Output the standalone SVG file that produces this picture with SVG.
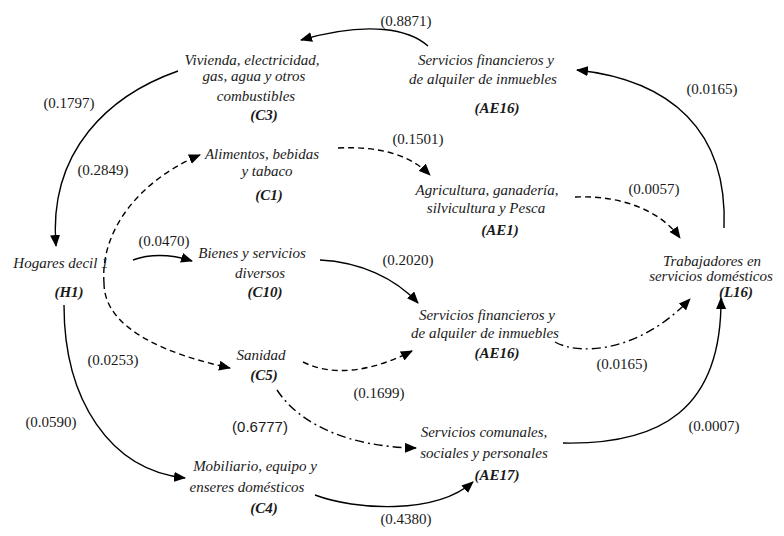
<svg xmlns="http://www.w3.org/2000/svg" width="784" height="536" viewBox="0 0 784 536" font-family="'Liberation Serif', 'Times New Roman', serif">
<defs>
<marker id="ah" markerWidth="12" markerHeight="10" refX="11" refY="5" orient="auto" markerUnits="userSpaceOnUse">
<path d="M0,0 L12,5 L0,10 Z" fill="#000"/>
</marker>
<style>
text{fill:#1a1a1a;}
.n{font-style:italic;font-size:15px;text-anchor:middle;}
.c{font-style:italic;font-weight:bold;font-size:15px;text-anchor:middle;}
.w{font-size:15px;text-anchor:middle;}
.ws{font-size:15px;text-anchor:middle;}
.e{fill:none;stroke:#000;stroke-width:1.4;marker-end:url(#ah);}
.d{stroke-dasharray:6,4;}
.dd{stroke-dasharray:9,4,2,4;}
</style>
</defs>
<rect width="784" height="536" fill="#fff"/>
<g id="connectors">
<path class="e" d="M428,46 C410,30 370,20 301,40"/>
<path class="e" d="M178,71 C110,95 48,150 56,246"/>
<path class="e d" d="M104,283 C100,230 140,180 200,155"/>
<path class="e d" d="M104,283 C104,330 170,355 230,368"/>
<path class="e" d="M133,260 C150,254 170,254 192,261"/>
<path class="e" d="M320,260 C360,262 395,278 418,303"/>
<path class="e d" d="M303,362 C335,378 375,370 412,351"/>
<path class="e dd" d="M277,390 C300,425 350,447 416,448"/>
<path class="e" d="M64,305 C64,400 110,470 185,478"/>
<path class="e" d="M315,495 C355,510 435,515 473,482"/>
<path class="e" d="M563,443 C660,445 722,410 721,298"/>
<path class="e dd" d="M555,342 C580,356 640,352 690,299"/>
<path class="e d" d="M575,197 C620,195 660,210 680,238"/>
<path class="e d" d="M338,148 C380,146 410,155 430,175"/>
<path class="e" d="M724,228 C728,130 670,80 577,70"/>
</g>
<g id="labels">
<text class="w" x="406" y="26">(0.8871)</text>
<text class="w" x="69" y="108">(0.1797)</text>
<text class="w" x="103" y="175">(0.2849)</text>
<text class="w" x="164" y="246">(0.0470)</text>
<text class="w" x="408" y="265">(0.2020)</text>
<text class="w" x="379" y="398">(0.1699)</text>
<text class="ws" x="260" y="432" font-family="'Liberation Sans', Arial, sans-serif">(0.6777)</text>
<text class="w" x="51" y="427">(0.0590)</text>
<text class="w" x="113" y="365">(0.0253)</text>
<text class="w" x="406" y="524">(0.4380)</text>
<text class="w" x="714" y="431">(0.0007)</text>
<text class="w" x="622" y="369">(0.0165)</text>
<text class="w" x="654" y="194">(0.0057)</text>
<text class="w" x="418" y="144">(0.1501)</text>
<text class="w" x="712" y="94">(0.0165)</text>
</g>
<g id="C3">
<text class="n" x="252" y="65">Vivienda, electricidad,</text>
<text class="n" x="254" y="81">gas, agua y otros</text>
<text class="n" x="256" y="101">combustibles</text>
<text class="c" x="264" y="120">(C3)</text>
</g>
<g id="AE16a">
<text class="n" x="486" y="65">Servicios financieros y</text>
<text class="n" x="483" y="84">de alquiler de inmuebles</text>
<text class="c" x="497" y="113">(AE16)</text>
</g>
<g id="C1">
<text class="n" x="262" y="159">Alimentos, bebidas</text>
<text class="n" x="267" y="176">y tabaco</text>
<text class="c" x="269" y="200">(C1)</text>
</g>
<g id="AE1">
<text class="n" x="487" y="195">Agricultura, ganadería,</text>
<text class="n" x="486" y="213">silvicultura y Pesca</text>
<text class="c" x="500" y="235">(AE1)</text>
</g>
<g id="H1">
<text class="n" x="61" y="268">Hogares decil 1</text>
<text class="c" x="69" y="297">(H1)</text>
</g>
<g id="C10">
<text class="n" x="252" y="258">Bienes y servicios</text>
<text class="n" x="260" y="278">diversos</text>
<text class="c" x="265" y="297">(C10)</text>
</g>
<g id="L16">
<text class="n" x="712" y="266">Trabajadores en</text>
<text class="n" x="711" y="281">servicios domésticos</text>
<text class="c" x="736" y="297">(L16)</text>
</g>
<g id="AE16b">
<text class="n" x="487" y="320">Servicios financieros y</text>
<text class="n" x="485" y="338">de alquiler de inmuebles</text>
<text class="c" x="497" y="358">(AE16)</text>
</g>
<g id="C5">
<text class="n" x="261" y="360">Sanidad</text>
<text class="c" x="264" y="380">(C5)</text>
</g>
<g id="AE17">
<text class="n" x="484" y="437">Servicios comunales,</text>
<text class="n" x="484" y="458">sociales y personales</text>
<text class="c" x="497" y="480">(AE17)</text>
</g>
<g id="C4">
<text class="n" x="255" y="471">Mobiliario, equipo y</text>
<text class="n" x="247" y="492">enseres domésticos</text>
<text class="c" x="264" y="513">(C4)</text>
</g>
</svg>
